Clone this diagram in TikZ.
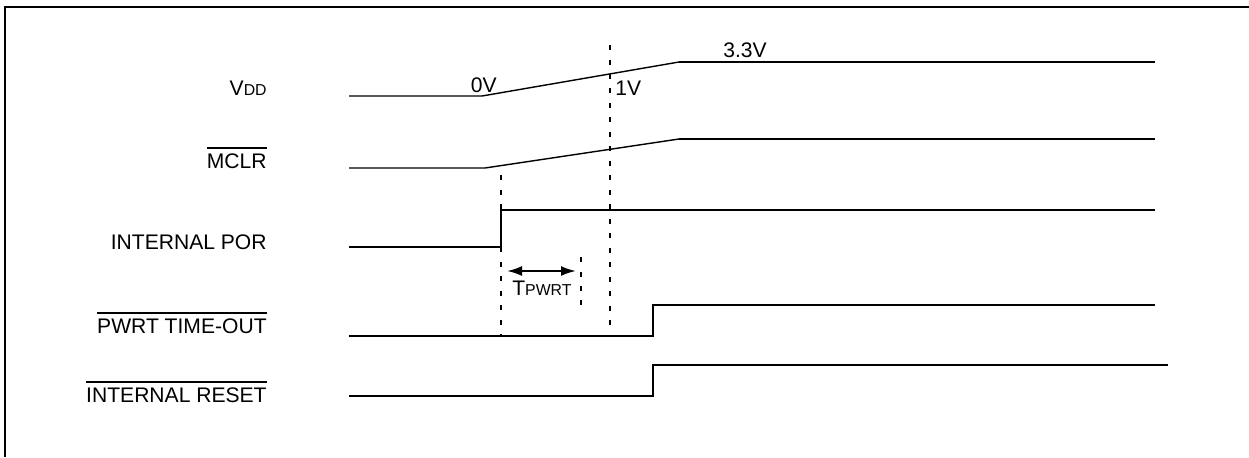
\documentclass[tikz,border=0pt]{standalone}
\usepackage{fontspec}
\setmainfont{Liberation Sans}
\usetikzlibrary{positioning,arrows.meta}
\tikzstyle{lbl}=[anchor=base east, inner sep=0pt]
\tikzstyle{val}=[anchor=base west, inner sep=0pt]
\tikzstyle{lo}=[line width=0.8pt]
\tikzstyle{hi}=[line width=1.25pt]
\tikzstyle{guide}=[line width=1.15pt, dash pattern=on 0.1cm off 0.19cm]
\tikzstyle{ovl}=[line width=1.15pt]
\newcommand{\smallsc}[1]{{\fontsize{9}{10}\selectfont #1}}

\begin{document}
\begin{tikzpicture}[x=0.02cm,y=-0.02cm,>=latex,font=\fontsize{12}{14}\selectfont]
\useasboundingbox (0,0) rectangle (1249,457);
\draw[line width=1.35pt] (5,457) -- (5,7) -- (1249,7);

% signal names
\node[lbl] at (267,95) (vdd) {V\smallsc{DD}};
\node[lbl] at (267,168) (mclr) {MCLR};
\node[lbl] at (267,249) (por) {INTERNAL POR};
\node[lbl] at (267,333) (pwrt) {PWRT TIME-OUT};
\node[lbl] at (267,402) (rst) {INTERNAL RESET};
\foreach \n in {mclr,pwrt,rst}
  \draw[ovl] ([yshift=3pt]\n.north west) -- ([yshift=3pt]\n.north east);

% time marks
\coordinate (t0) at (482,0);
\coordinate (tp) at (501,0);
\coordinate (t1) at (610,0);
\coordinate (tw) at (653,0);
\coordinate (tr) at (679,0);

% VDD
\draw[lo] (349,96) -- (t0 |- 0,96) -- (tr |- 0,62);
\draw[hi] (tr |- 0,62) -- (1155,62);
\node[val, anchor=base east] at (497,92) (v0) {0V};
\node[val] at (615,95) (v1) {1V};
\node[val] at (723,57) (v33) {3.3V};

% MCLR
\draw[lo] (349,168) -- (485,168) -- (tr |- 0,139);
\draw[hi] (tr |- 0,139) -- (1155,139);

% INTERNAL POR
\draw[hi] (349,247) -| (tp |- 0,210) -- (1155,210);

% PWRT TIME-OUT
\draw[hi] (349,336) -| (tw |- 0,305) -- (1155,305);

% INTERNAL RESET
\draw[hi] (349,396) -| (tw |- 0,365) -- (1168,365);

% dashed guides
\draw[guide] (tp |- 0,175) -- (tp |- 0,336);
\draw[guide] (t1 |- 0,45) -- (t1 |- 0,330);
\coordinate (te) at (581,257);
\draw[guide] (te) -- (581,306);

% TPWRT
\coordinate (a0) at (507,271);
\coordinate (a1) at (576,271);
\draw[{Latex[length=0.3cm,width=0.2cm]}-{Latex[length=0.3cm,width=0.2cm]},line width=1.2pt] (a0) -- (a1);
\node[val] at (512,295) (tpw) {T\smallsc{PWRT}};
\end{tikzpicture}
\end{document}
